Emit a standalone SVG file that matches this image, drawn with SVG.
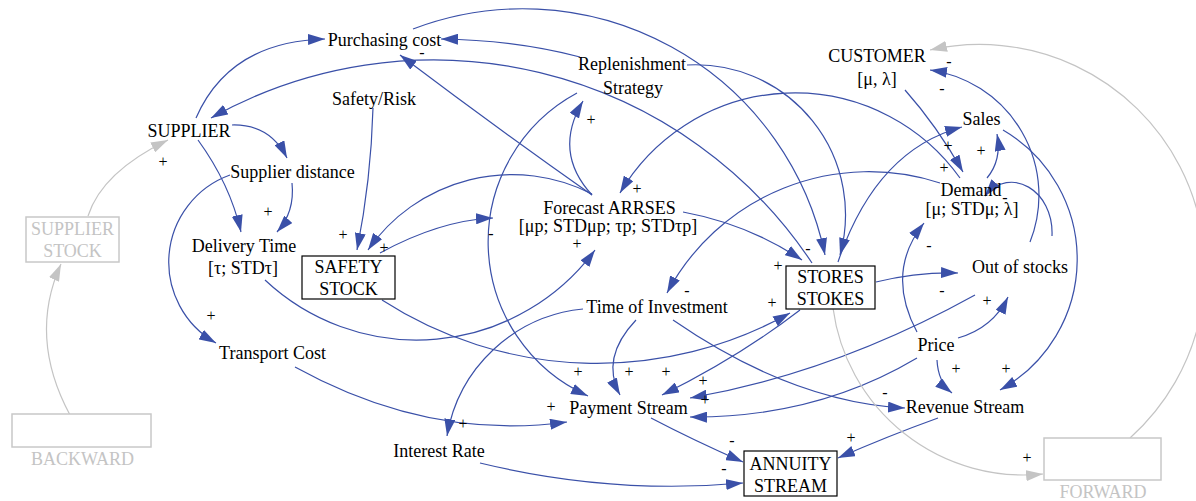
<svg xmlns="http://www.w3.org/2000/svg" width="1196" height="501" viewBox="0 0 1196 501">
<style>
.t{font-family:"Liberation Serif","Times New Roman",serif;font-size:18px;fill:#000;text-anchor:middle}
.g{font-family:"Liberation Serif","Times New Roman",serif;font-size:18px;fill:#c4c4c4;text-anchor:middle}
.p{font-family:"Liberation Serif","Times New Roman",serif;font-size:16px;fill:#000;text-anchor:middle}
.c path{fill:none;stroke:#3a50a8;stroke-width:1.2;marker-end:url(#a)}
.c path.gr{stroke:#c4c4c4;marker-end:url(#ag)}
.box{fill:#fff;stroke:#000;stroke-width:1.2}
.gbox{fill:#fff;stroke:#c8c8c8;stroke-width:1.5}
</style>
<defs>
<marker id="a" viewBox="0 0 17 11" refX="17" refY="5.5" markerWidth="17" markerHeight="11" markerUnits="userSpaceOnUse" orient="auto"><path d="M0,0 L17,5.5 L0,11 z" fill="#3a50a8"/></marker>
<marker id="ag" viewBox="0 0 17 11" refX="17" refY="5.5" markerWidth="17" markerHeight="11" markerUnits="userSpaceOnUse" orient="auto"><path d="M0,0 L17,5.5 L0,11 z" fill="#c4c4c4"/></marker>
</defs>
<rect width="1196" height="501" fill="#fff"/>
<g id="connectors" class="c">
<path d="M196,118 Q229.5,41.5 325,39"/>
<path d="M580,57 Q515,40 441,39"/>
<path d="M592,195 Q494,126 400,55"/>
<path d="M413,29 A308.5,308.5 0 0 1 825,255"/>
<path d="M687,65 A150,150 0 0 1 840,255"/>
<path d="M812,263 A454.7,454.7 0 0 0 211,118"/>
<path d="M592,195 Q552.5,152 583,101"/>
<path d="M577,93 A169,169 0 0 0 588,396"/>
<path d="M592,194 A175,175 0 0 0 368,250"/>
<path d="M380,253 Q439.5,220.5 493,218"/>
<path d="M373,108 Q371,180 357,250"/>
<path d="M232,125 Q270,124 287,158"/>
<path d="M198,140 Q230,184 241,232"/>
<path d="M292,183 Q295,212 277,232"/>
<path d="M230,175 A92.7,92.7 0 0 0 216,343"/>
<path class="gr" d="M88,216 Q102,172 168,140"/>
<path class="gr" d="M70,415 Q28,337 61,264"/>
<path d="M265,280 A221.6,221.6 0 0 0 595,250"/>
<path d="M382,300 A396,396 0 0 0 790,313"/>
<path d="M838,262 Q876,150 962,127"/>
<path d="M960,178 A202.8,202.8 0 0 0 620,193"/>
<path d="M940,183 A228.7,228.7 0 0 0 667,293"/>
<path d="M683,212 Q748,224 802,260"/>
<path d="M876,282 Q917,272 958,273"/>
<path d="M1030,242 A126.5,126.5 0 0 0 930,70"/>
<path d="M1052,236 C1054,190 1010,165 985,196"/>
<path d="M905,90 Q937,126 963,172"/>
<path d="M987,178 Q1002,160 997,134"/>
<path d="M1003,130 A149.5,149.5 0 0 1 1000,390"/>
<path d="M917,332 Q885,272 924,223"/>
<path d="M958,338 Q993,328 1008,297"/>
<path d="M937,360 Q938,382 952,393"/>
<path d="M975,295 Q834,373 690,398"/>
<path d="M917,358 Q816,418 690,417"/>
<path d="M800,310 Q739,357 662,395"/>
<path d="M636,320 Q600,358 620,395"/>
<path d="M583,309 A153.2,153.2 0 0 0 447,436"/>
<path d="M673,320 Q792,402 905,408"/>
<path d="M295,367 Q429,441 567,422"/>
<path d="M651,418 Q693,440 743,462"/>
<path d="M480,463 Q612,495 743,483"/>
<path d="M938,418 Q888,436 838,458"/>
<path class="gr" d="M833,308 A192.3,192.3 0 0 0 1043,474"/>
<path class="gr" d="M1130,438 A225.5,225.5 0 0 0 930,50"/>
</g>
<g id="polarities">
<text class="p" x="422" y="58">-</text>
<text class="p" x="949" y="67">-</text>
<text class="p" x="942" y="94">-</text>
<text class="p" x="163" y="167">+</text>
<text class="p" x="268" y="217">+</text>
<text class="p" x="591" y="125">+</text>
<text class="p" x="637" y="194">+</text>
<text class="p" x="948" y="151">+</text>
<text class="p" x="944" y="173">+</text>
<text class="p" x="981" y="156">+</text>
<text class="p" x="1005" y="203">-</text>
<text class="p" x="343" y="240">+</text>
<text class="p" x="384" y="253">+</text>
<text class="p" x="491" y="239">-</text>
<text class="p" x="577" y="249">+</text>
<text class="p" x="929" y="251">-</text>
<text class="p" x="808" y="254">-</text>
<text class="p" x="778" y="271">+</text>
<text class="p" x="772" y="308">+</text>
<text class="p" x="687" y="296">-</text>
<text class="p" x="942" y="296">-</text>
<text class="p" x="987" y="306">+</text>
<text class="p" x="211" y="321">+</text>
<text class="p" x="578" y="377">+</text>
<text class="p" x="629" y="377">+</text>
<text class="p" x="666" y="377">+</text>
<text class="p" x="703" y="386">+</text>
<text class="p" x="705" y="405">+</text>
<text class="p" x="551" y="412">+</text>
<text class="p" x="463" y="429">+</text>
<text class="p" x="956" y="374">+</text>
<text class="p" x="1006" y="374">+</text>
<text class="p" x="885" y="398">-</text>
<text class="p" x="732" y="446">-</text>
<text class="p" x="724" y="474">-</text>
<text class="p" x="851" y="443">+</text>
<text class="p" x="1027" y="463">+</text>
</g>
<g id="purchasing-cost"><text class="t" x="384.5" y="46">Purchasing cost</text></g>
<g id="replenishment-strategy"><text class="t" x="632" y="70">Replenishment</text><text class="t" x="633" y="94">Strategy</text></g>
<g id="customer"><text class="t" x="877" y="62">CUSTOMER</text><text class="t" x="877" y="85">[μ, λ]</text></g>
<g id="safety-risk"><text class="t" x="374" y="105">Safety/Risk</text></g>
<g id="supplier"><text class="t" x="189" y="137">SUPPLIER</text></g>
<g id="sales"><text class="t" x="981.5" y="125">Sales</text></g>
<g id="supplier-distance"><text class="t" x="292.5" y="178">Supplier distance</text></g>
<g id="forecast"><text class="t" x="609.5" y="214">Forecast ARRSES</text><text class="t" x="608" y="232">[μp; STDμp; τp; STDτp]</text></g>
<g id="demand"><text class="t" x="971" y="196">Demand</text><text class="t" x="972" y="215">[μ; STDμ; λ]</text></g>
<g id="supplier-stock"><rect class="gbox" x="26" y="217" width="93" height="45"/><text class="g" x="72.5" y="235">SUPPLIER</text><text class="g" x="72.5" y="257">STOCK</text></g>
<g id="delivery-time"><text class="t" x="244" y="252">Delivery Time</text><text class="t" x="243" y="274">[τ; STDτ]</text></g>
<g id="safety-stock"><rect class="box" x="302" y="256" width="93" height="43"/><text class="t" x="348.5" y="273">SAFETY</text><text class="t" x="348.5" y="295">STOCK</text></g>
<g id="stores-stokes"><rect class="box" x="786" y="266" width="89" height="43"/><text class="t" x="830.5" y="283">STORES</text><text class="t" x="830.5" y="305">STOKES</text></g>
<g id="out-of-stocks"><text class="t" x="1020" y="273">Out of stocks</text></g>
<g id="time-of-investment"><text class="t" x="657" y="313">Time of Investment</text></g>
<g id="transport-cost"><text class="t" x="272.5" y="359">Transport Cost</text></g>
<g id="price"><text class="t" x="936" y="351">Price</text></g>
<g id="payment-stream"><text class="t" x="628.5" y="414">Payment Stream</text></g>
<g id="revenue-stream"><text class="t" x="965" y="413">Revenue Stream</text></g>
<g id="interest-rate"><text class="t" x="439" y="457">Interest Rate</text></g>
<g id="annuity-stream"><rect class="box" x="744" y="451" width="93" height="45"/><text class="t" x="790.5" y="470">ANNUITY</text><text class="t" x="790.5" y="492">STREAM</text></g>
<g id="backward"><rect class="gbox" x="12" y="414" width="139" height="33"/><text class="g" x="82.5" y="465">BACKWARD</text></g>
<g id="forward"><rect class="gbox" x="1044" y="438" width="117" height="42"/><text class="g" x="1103" y="498">FORWARD</text></g>
</svg>
